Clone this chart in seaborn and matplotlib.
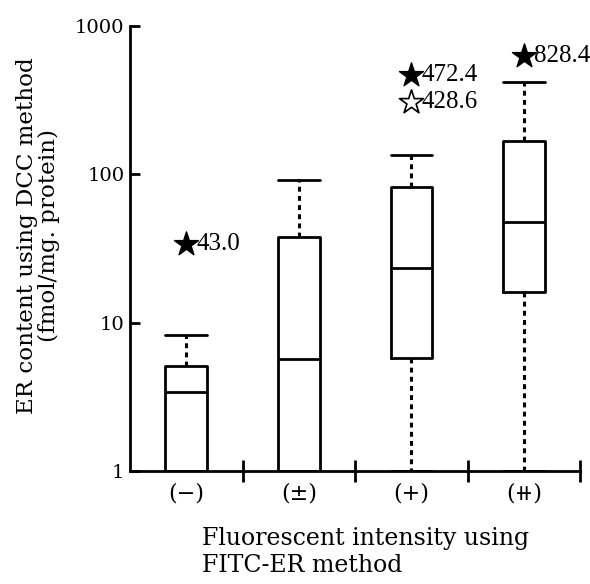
import numpy as np
import pandas as pd
import seaborn as sns
import matplotlib.pyplot as plt

# box summaries (fmol/mg protein)
groups = ["(−)", "(±)", "(+)", "(⧺)"]
whisker_low = [1.0, 1.0, 1.0, 1.0]
q1 = [1.0, 1.0, 5.8, 16.0]
medians = [3.4, 5.7, 23.5, 47.5]
q3 = [5.1, 38.0, 82.0, 168.0]
whisker_high = [8.3, 92.0, 136.0, 420.0]

# starred outliers, drawn where they sit on the chart
star_group = [0, 2, 2, 3]
star_y = [34.0, 470.0, 305.0, 625.0]
star_filled = [True, True, False, True]
star_labels = ["43.0", "472.4", "428.6", "828.4"]

# five points per group give exactly these quartiles with whis=(0, 100)
rows = []
for i, g in enumerate(groups):
    for v in [whisker_low[i], q1[i], medians[i], q3[i], whisker_high[i]]:
        rows.append({"group": g, "value": v})
df = pd.DataFrame(rows)

sns.set_style("white")
plt.rcParams["font.family"] = ["DejaVu Serif", "DejaVu Sans"]
plt.rcParams["text.color"] = "black"
plt.rcParams["axes.labelcolor"] = "black"
plt.rcParams["xtick.color"] = "black"
plt.rcParams["ytick.color"] = "black"

fig = plt.figure(figsize=(5.9, 5.84), dpi=100)
ax = fig.add_axes([0.2203, 0.1935, 0.763, 0.762])

box_w = 0.37
sns.boxplot(data=df, x="group", y="value", order=groups, log_scale=True,
            whis=(0, 100), width=box_w, fill=False, color="black", linewidth=2,
            whiskerprops=dict(linestyle=(0, (1.6, 1.4)), linewidth=2.2),
            medianprops=dict(linewidth=2), showfliers=False, ax=ax)

# caps as wide as the boxes
for ln in ax.lines:
    xd, yd = ln.get_xdata(), ln.get_ydata()
    if len(xd) == 2 and yd[0] == yd[1]:
        c = (xd[0] + xd[1]) / 2
        ln.set_xdata([c - box_w / 2, c + box_w / 2])
        ln.set_linestyle("-")
        ln.set_linewidth(2)

# stars + values
for gx, sy, filled, lab in zip(star_group, star_y, star_filled, star_labels):
    ax.scatter([gx], [sy], marker="*", s=330, zorder=5, clip_on=False,
               facecolor="black" if filled else "white", edgecolor="black",
               linewidth=1.0 if filled else 1.2)
    ax.text(gx + 0.09, sy, lab, ha="left", va="center", fontsize=18,
            family=["Liberation Serif"], clip_on=False)

ax.set_ylim(1, 1000)
ax.set_xlim(-0.5, 3.5)
ax.set_yticks([1, 10, 100, 1000])
ax.set_yticklabels(["1", "10", "100", "1000"])
ax.yaxis.set_minor_locator(plt.NullLocator())
ax.tick_params(axis="y", left=True, direction="in", length=7, width=2,
               labelsize=14, pad=4)

ax.set_xticks([0.5, 1.5, 2.5, 3.5])
ax.set_xticklabels([])
ax.set_xticks([0, 1, 2, 3], minor=True)
ax.set_xticklabels(groups, minor=True, fontsize=16)
ax.tick_params(axis="x", which="major", bottom=True, direction="inout",
               length=16, width=2)
ax.tick_params(axis="x", which="minor", bottom=True, length=0, pad=8)

for s in ["top", "right"]:
    ax.spines[s].set_visible(False)
for s in ["left", "bottom"]:
    ax.spines[s].set_linewidth(2)
    ax.spines[s].set_color("black")

ax.set_xlabel("")
ax.set_ylabel("ER content using DCC method\n(fmol/mg. protein)", fontsize=16.6,
              linespacing=1.0)
ax.yaxis.set_label_coords(-0.155, 0.53)
fig.text(202 / 590, 1 - 527 / 584, "Fluorescent intensity using\nFITC-ER method",
         ha="left", va="top", fontsize=17, linespacing=1.2)

fig.savefig("out.png", dpi=100)
